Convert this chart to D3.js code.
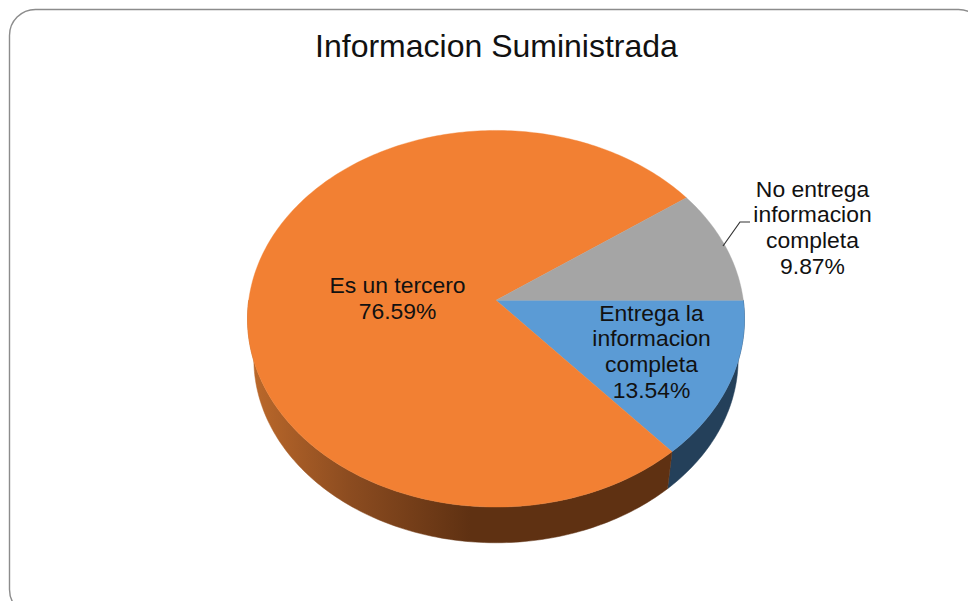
<!DOCTYPE html>
<html>
<head>
<meta charset="utf-8">
<script src="https://cdn.jsdelivr.net/npm/d3@7"></script>
<style>
html,body{margin:0;padding:0;background:#fff;overflow:hidden}
svg{display:block}
text{font-family:"Liberation Sans",Arial,sans-serif;fill:#111}
</style>
</head>
<body>
<svg id="c" width="968" height="601"></svg>
<script>
const chartTitle = "Informacion Suministrada";
const categories = ["Entrega la informacion completa", "Es un tercero", "No entrega informacion completa"];
const values = [13.54, 76.59, 9.87];
const labelLines = [
  ["Entrega la", "informacion", "completa", "13.54%"],
  ["Es un tercero", "76.59%"],
  ["No entrega", "informacion", "completa", "9.87%"]
];
const faceColors = ["#5B9BD5", "#F28033", "#A5A5A5"];
const wallColors = ["#24405A", "url(#wallOrange)", "#555555"];

const svg = d3.select("#c");
const defs = svg.append("defs");
const grad = defs.append("linearGradient").attr("id", "wallOrange")
  .attr("gradientUnits", "userSpaceOnUse")
  .attr("x1", 250).attr("x2", 470).attr("y1", 0).attr("y2", 0);
[[0, "#BC692B"], [0.45, "#8C4C20"], [1, "#5F3112"]].forEach(([o, c]) =>
  grad.append("stop").attr("offset", o).attr("stop-color", c));

svg.append("rect").attr("x", 9.5).attr("y", 9.5).attr("width", 975).attr("height", 606)
  .attr("rx", 26).attr("fill", "#fff").attr("stroke", "#8c8c8c").attr("stroke-width", 1.4);

svg.append("text").attr("x", 496.5).attr("y", 57).attr("text-anchor", "middle")
  .attr("font-size", 32).text(chartTitle);

// Perspective view of a tilted disc: the pie centre sits above the ellipse centre.
const persp = 0.098;
function project(angle, cx, cy, a, b) {
  const u = Math.sin(angle), v = -Math.cos(angle);
  const w = 1 - persp * v;
  return [cx + a * u / w, cy + b * v / w];
}
const top_ = { cx: 496, cy: 300.3, a: 247.3, b: 186.5 };
const bottom = { cx: 496, cy: 341, a: 241, b: 182 };

const pie = d3.pie().sort(null).startAngle(Math.PI / 2).endAngle(Math.PI / 2 + 2 * Math.PI);
const arcs = pie(values);
const line = d3.line();

function arcPoints(d, g) {
  const n = Math.max(2, Math.ceil((d.endAngle - d.startAngle) * 60));
  return d3.range(n + 1).map(i =>
    project(d.startAngle + (d.endAngle - d.startAngle) * i / n, g.cx, g.cy, g.a, g.b));
}

// side walls, only the near half of the disc (angles PI/2 .. 3PI/2)
const near = arcs.map(d => ({
  startAngle: Math.max(d.startAngle, Math.PI / 2),
  endAngle: Math.min(d.endAngle, 3 * Math.PI / 2)
}));
svg.append("g").selectAll("path").data(near.filter(d => d.endAngle > d.startAngle)).join("path")
  .attr("d", d => line(arcPoints(d, top_).concat(arcPoints(d, bottom).reverse())) + "Z")
  .attr("fill", (d, i) => wallColors[i])
  .attr("stroke", (d, i) => wallColors[i]).attr("stroke-width", 0.5);

// top faces
svg.append("g").selectAll("path").data(arcs).join("path")
  .attr("d", d => line([[top_.cx, top_.cy]].concat(arcPoints(d, top_))) + "Z")
  .attr("fill", (d, i) => faceColors[i])
  .attr("stroke", (d, i) => faceColors[i]).attr("stroke-width", 0.4);

// leader line of the outside label
svg.append("path").attr("d", line([[723, 246], [740, 222], [750, 222]]))
  .attr("fill", "none").attr("stroke", "#333").attr("stroke-width", 1.2);

// labels
const labelAnchors = [[651.5, 320.7], [397.5, 293], [812.5, 196.5]];
const lineStep = 25.7;
const labels = svg.append("g").selectAll("text").data(labelLines).join("text")
  .attr("text-anchor", "middle").attr("font-size", 22.9);
labels.each(function (lines, i) {
  d3.select(this).selectAll("tspan").data(lines).join("tspan")
    .attr("x", labelAnchors[i][0])
    .attr("y", (t, j) => labelAnchors[i][1] + j * lineStep)
    .text(t => t);
});
</script>
</body>
</html>
